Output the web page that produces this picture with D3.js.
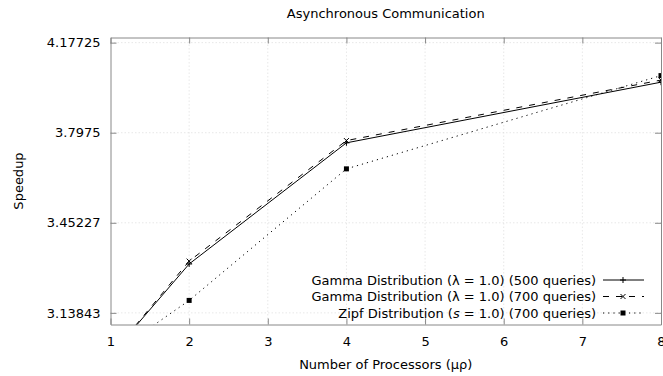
<!DOCTYPE html>
<html>
<head>
<meta charset="utf-8">
<script src="https://cdn.jsdelivr.net/npm/d3@7"></script>
<style>
  body { margin: 0; background: #fff; }
  svg { font-family: "DejaVu Sans", sans-serif; }
</style>
</head>
<body>
<svg id="chart" width="663" height="376"></svg>
<script>
// data
const processors = [1, 2, 4, 8];
const gamma500 = [3.0, 3.305, 3.757, 4.006];
const gamma700 = [3.0, 3.315, 3.766, 4.015];
const zipf700 = [3.0, 3.180, 3.655, 4.034];

const xTicks = [1, 2, 3, 4, 5, 6, 7, 8];
const yTicks = [3.13843, 3.45227, 3.7975, 4.17725];
const yTickLabels = ["3.13843", "3.45227", "3.7975", "4.17725"];

const seriesNames = [
  "Gamma Distribution (\u03bb = 1.0) (500 queries)",
  "Gamma Distribution (\u03bb = 1.0) (700 queries)",
  "Zipf Distribution (s = 1.0) (700 queries)",
];

const plot = { left: 110.5, right: 661, top: 37.5, bottom: 324.5 };

const svg = d3.select("#chart");

const x = d3.scaleLinear().domain([1, 8]).range([plot.left, plot.right]);
const y = d3.scaleLog().domain([3.1, 4.2]).range([plot.bottom, plot.top]);

// clip for lines
svg.append("defs").append("clipPath").attr("id", "clip")
  .append("rect")
  .attr("x", plot.left).attr("y", plot.top)
  .attr("width", plot.right - plot.left).attr("height", plot.bottom - plot.top);

// grid
const grid = svg.append("g").attr("class", "grid");
grid.selectAll("line.gx")
  .data(xTicks.slice(1, -1))
  .enter().append("line")
  .attr("x1", (d) => x(d)).attr("x2", (d) => x(d))
  .attr("y1", plot.top).attr("y2", plot.bottom)
  .attr("stroke", "#d8d8d8").attr("stroke-width", 0.6)
  .attr("stroke-dasharray", "1.5,2");
grid.selectAll("line.gy")
  .data(yTicks)
  .enter().append("line")
  .attr("x1", plot.left).attr("x2", plot.right)
  .attr("y1", (d) => y(d)).attr("y2", (d) => y(d))
  .attr("stroke", "#d8d8d8").attr("stroke-width", 0.6)
  .attr("stroke-dasharray", "1.5,2");

// axes (ticks inward, mirrored)
const axisColor = "#888";
const fmt = (d) => yTickLabels[yTicks.indexOf(d)];

const bottomAxis = svg.append("g")
  .attr("transform", `translate(0,${plot.bottom})`)
  .call(d3.axisBottom(x).tickValues(xTicks).tickSizeInner(-6).tickSizeOuter(0).tickPadding(12).tickFormat(d3.format("d")));
const topAxis = svg.append("g")
  .attr("transform", `translate(0,${plot.top})`)
  .call(d3.axisTop(x).tickValues(xTicks).tickSizeInner(-6).tickSizeOuter(0).tickFormat(""));
const leftAxis = svg.append("g")
  .attr("transform", `translate(${plot.left},0)`)
  .call(d3.axisLeft(y).tickValues(yTicks).tickSizeInner(-6).tickSizeOuter(0).tickPadding(10).tickFormat(fmt));
const rightAxis = svg.append("g")
  .attr("transform", `translate(${plot.right},0)`)
  .call(d3.axisRight(y).tickValues(yTicks).tickSizeInner(-6).tickSizeOuter(0).tickFormat(""));

[bottomAxis, topAxis, leftAxis, rightAxis].forEach((g) => {
  g.select(".domain").attr("stroke", axisColor);
  g.selectAll(".tick line").attr("stroke", axisColor);
  g.selectAll(".tick text")
    .attr("fill", "#000")
    .style("font-family", "DejaVu Sans, sans-serif")
    .style("font-size", "13px");
});

// series
const series = [
  { name: seriesNames[0], values: gamma500, dash: null, marker: "plus" },
  { name: seriesNames[1], values: gamma700, dash: "6,7", marker: "cross" },
  { name: seriesNames[2], values: zipf700, dash: "1.2,4", marker: "square" },
];

const line = d3.line()
  .x((d, i) => x(processors[i]))
  .y((d) => y(d));

const lines = svg.append("g").attr("clip-path", "url(#clip)");

function drawMarker(g, kind, cx, cy) {
  if (kind === "plus") {
    g.append("path")
      .attr("d", `M${cx - 3},${cy}H${cx + 3}M${cx},${cy - 3}V${cy + 3}`)
      .attr("stroke", "#000").attr("stroke-width", 1);
  } else if (kind === "cross") {
    g.append("path")
      .attr("d", `M${cx - 2.5},${cy - 2.5}L${cx + 2.5},${cy + 2.5}M${cx - 2.5},${cy + 2.5}L${cx + 2.5},${cy - 2.5}`)
      .attr("stroke", "#000").attr("stroke-width", 1);
  } else {
    g.append("rect")
      .attr("x", cx - 2.5).attr("y", cy - 2.5)
      .attr("width", 5).attr("height", 5)
      .attr("fill", "#000");
  }
}

series.forEach((s) => {
  lines.append("path")
    .datum(s.values)
    .attr("d", line)
    .attr("fill", "none")
    .attr("stroke", "#000")
    .attr("stroke-width", 1)
    .attr("stroke-dasharray", s.dash);
  const mg = lines.append("g");
  s.values.forEach((v, i) => drawMarker(mg, s.marker, x(processors[i]), y(v)));
});

// legend
const legend = svg.append("g");
series.forEach((s, i) => {
  const ly = 280 + i * 16.5;
  const t = legend.append("text")
    .attr("x", 596).attr("y", ly)
    .attr("dy", "0.35em")
    .attr("text-anchor", "end")
    .style("font-size", "13px");
  if (i === 2) {
    t.append("tspan").text("Zipf Distribution (");
    t.append("tspan").attr("font-style", "italic").text("s");
    t.append("tspan").text(" = 1.0) (700 queries)");
  } else {
    t.text(s.name);
  }
  legend.append("line")
    .attr("x1", 603).attr("x2", 644)
    .attr("y1", ly).attr("y2", ly)
    .attr("stroke", "#000").attr("stroke-width", 1)
    .attr("stroke-dasharray", s.dash);
  drawMarker(legend, s.marker, 623, ly);
});

// titles
svg.append("text")
  .attr("x", (plot.left + plot.right) / 2).attr("y", 18)
  .attr("text-anchor", "middle")
  .style("font-size", "13px")
  .text("Asynchronous Communication");

svg.append("text")
  .attr("x", (plot.left + plot.right) / 2).attr("y", 369)
  .attr("text-anchor", "middle")
  .style("font-size", "13px")
  .text("Number of Processors (\u03bc\u03c1)");

svg.append("text")
  .attr("transform", `translate(23,${(plot.top + plot.bottom) / 2}) rotate(-90)`)
  .attr("text-anchor", "middle")
  .style("font-size", "13px")
  .text("Speedup");
</script>
</body>
</html>
